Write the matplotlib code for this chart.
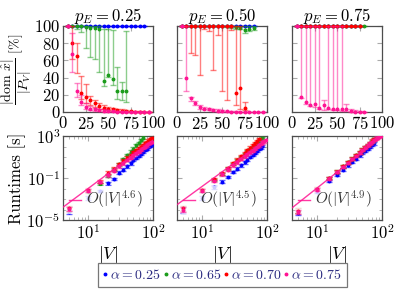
import numpy as np
import matplotlib
matplotlib.use("Agg")
import matplotlib.pyplot as plt
from matplotlib.colors import to_rgba
from matplotlib.lines import Line2D
from matplotlib.ticker import FixedLocator, LogLocator, NullFormatter

plt.rcParams['font.family'] = 'cmr10'
plt.rcParams['mathtext.fontset'] = 'cm'
plt.rcParams['axes.formatter.use_mathtext'] = True
plt.rcParams['axes.unicode_minus'] = False
plt.rcParams['font.size'] = 12

sizes = [5, 10, 15, 20, 25, 30, 35, 40, 45, 50, 55, 60, 65, 70, 75, 80, 85, 90, 95]
p_e = ['0.25', '0.50', '0.75']
alphas = ['0.25', '0.65', '0.70', '0.75']
colors = ['#0000ff', '#1c9c1c', '#ff0000', '#ff1493']

# share |dom x| / |P_V| in %, median / lower / upper, pE = 0.25
s25_blue_med = [100] * 18
s25_green_med = [100, 100, 100, 100, 99, 98, 98, 97, 36, 43, 38, 25, 24, 24]
s25_green_lo = [100, 100, 97, 93, 75, 64, 62, 47, 30, 41, 31, 15, 14, 12]
s25_green_hi = [100, 100, 100, 100, 100, 100, 100, 100, 97, 97, 95, 52, 35, 94]
s25_red_med = [100, 80, 65, 22, 18, 14, 10, 7, 5, 4, 3, 2, 1.5, 1, 0.8, 0.5, 0.3, 0.2, 0.1]
s25_red_lo = [100, 62, 45, 15, 10, 8, 6, 4, 3, 2, 1.5, 1, 0.5, 0.3, 0.2, 0.1, 0, 0, 0]
s25_red_hi = [100, 100, 80, 42, 32, 19, 14, 11, 8, 6, 5, 4, 3, 2, 1.5, 1, 0.6, 0.4, 0.2]
s25_pink_med = [100, 68, 24, 12, 6, 4, 3, 2, 1.5, 1, 0.6, 0.4, 0.3, 0.2, 0.1, 0.1, 0, 0, 0]
s25_pink_lo = [100, 47, 18, 8, 3, 2, 1.5, 1, 0.5, 0.3, 0.2, 0.1, 0, 0, 0, 0, 0, 0, 0]
s25_pink_hi = [100, 92, 34, 20, 10, 7, 5, 4, 3, 2, 1.5, 1, 0.6, 0.4, 0.3, 0.2, 0.1, 0.1, 0]

# pE = 0.50
s50_blue_med = [100] * 17
s50_green_med = [100, 100, 100, 100, 100, 100, 100, 100, 100, 100, 100, 100, 99, 98, 95, 97, 98]
s50_green_lo = [100, 100, 100, 100, 100, 100, 100, 100, 100, 100, 99, 98, 97, 96, 92, 94, 95]
s50_green_hi = [100] * 17
s50_red_med = [100, 100, 100, 100, 100, 100, 100, 100, 100, 100, 100, 100, 22, 28, 5]
s50_red_lo = [100, 100, 69, 66, 43, 96, 94, 49, 89, 25, 14, 95, 8, 3, 2]
s50_red_hi = [100, 100, 100, 100, 100, 100, 100, 100, 100, 100, 100, 100, 100, 100, 12]
s50_pink_med = [100, 40, 16, 10, 6, 4, 3, 2, 1.5, 1, 0.6, 0.4, 0.3, 0.2, 0.1, 0.1, 0, 0, 0]
s50_pink_lo = [100, 24, 13, 8, 4, 3, 2, 1, 0.5, 0.3, 0.2, 0.1, 0, 0, 0, 0, 0, 0, 0]
s50_pink_hi = [100, 100, 18, 13, 8, 6, 5, 4, 3, 2, 1.5, 1, 0.6, 0.4, 0.3, 0.2, 0.1, 0.1, 0]

# pE = 0.75
s75_blue_med = [100] * 15
s75_green_med = [100] * 16
s75_red_med = [100] * 15
s75_pink_med = [100, 18, 12, 8, 9, 5, 8, 5, 4, 3, 4, 3, 1, 0.5, 0.5, 0.3]
s75_pink_lo = [100, 16, 9, 7, 6, 4, 2, 3, 2, 2, 1, 1, 0.3, 0, 0, 0]
s75_pink_hi = [100, 100, 100, 100, 100, 100, 14, 100, 100, 100, 100, 9, 3, 2, 1, 0.5]

# runtimes, log10 of seconds
rt25_blue = [-4.2, -2.9, -2.25, -1.5, -1.1, -0.5, -0.2, 0.1, 0.4, 0.7, 0.9, 1.1, 1.3, 1.5, 1.65, 1.8, 1.95, 2.05, 2.2]
rt25_green = [-3.9, -2.3, -1.55, -0.8, -0.2, 0.3, 0.8, 1.2, 1.5, 1.8, 2.1, 2.35, 2.6, 2.85]
rt25_red = [-3.9, -2.1, -1.35, -0.5, -0.1, 0.35, 0.65, 0.95, 1.2, 1.45, 1.65, 1.85, 2.0, 2.15, 2.3, 2.45, 2.55, 2.7, 2.8]
rt25_pink = [-3.95, -2.2, -1.4, -0.75, -0.3, 0.1, 0.4, 0.7, 0.95, 1.15, 1.35, 1.5, 1.7, 1.85, 2.0, 2.1, 2.25, 2.35, 2.45]
rt50_blue = [-4.1, -2.9, -1.9, -1.35, -0.9, -0.45, -0.1, 0.2, 0.5, 0.75, 1.0, 1.2, 1.4, 1.6, 1.75, 1.9, 2.05]
rt50_green = [-3.9, -2.2, -1.2, -0.6, -0.1, 0.35, 0.7, 1.0, 1.3, 1.55, 1.75, 1.95, 2.15, 2.35, 2.5, 2.65, 2.8]
rt50_red = [-3.9, -2.1, -1.1, -0.55, -0.05, 0.4, 0.75, 1.1, 1.4, 1.65, 1.9, 2.1, 2.3, 2.5, 2.7]
rt50_pink = [-4.0, -2.2, -1.3, -0.65, -0.2, 0.2, 0.5, 0.8, 1.05, 1.25, 1.45, 1.6, 1.8, 1.95, 2.1, 2.25, 2.4, 2.5, 2.6]
rt75_blue = [-4.3, -2.3, -1.3, -0.7, -0.2, 0.2, 0.55, 0.85, 1.15, 1.4, 1.6, 1.8, 2.0, 2.15, 2.3]
rt75_green = [-4.1, -2.0, -1.0, -0.4, 0.1, 0.5, 0.85, 1.2, 1.45, 1.7, 1.95, 2.15, 2.35, 2.5, 2.65, 2.8]
rt75_red = [-4.1, -2.0, -1.0, -0.4, 0.1, 0.5, 0.85, 1.2, 1.45, 1.7, 1.95, 2.15, 2.35, 2.55, 2.7]
rt75_pink = [-4.2, -2.1, -1.05, -0.45, 0.05, 0.45, 0.8, 1.1, 1.4, 1.65, 1.9, 2.1, 2.3, 2.45, 2.6, 2.75, 2.85, 2.95, 3.0]
rt_err = [0.2, 0.15, 0.12, 0.12, 0.12, 0.12, 0.12, 0.12, 0.12, 0.12, 0.12, 0.12, 0.12, 0.12, 0.12, 0.12, 0.12, 0.12, 0.12]

fit_exp = [4.6, 4.5, 4.9]
fit_logc = [-6.6, -6.3, -6.85]

share = [
    [(s25_blue_med, s25_blue_med, s25_blue_med),
     (s25_green_med, s25_green_lo, s25_green_hi),
     (s25_red_med, s25_red_lo, s25_red_hi),
     (s25_pink_med, s25_pink_lo, s25_pink_hi)],
    [(s50_blue_med, s50_blue_med, s50_blue_med),
     (s50_green_med, s50_green_lo, s50_green_hi),
     (s50_red_med, s50_red_lo, s50_red_hi),
     (s50_pink_med, s50_pink_lo, s50_pink_hi)],
    [(s75_blue_med, s75_blue_med, s75_blue_med),
     (s75_green_med, s75_green_med, s75_green_med),
     (s75_red_med, s75_red_med, s75_red_med),
     (s75_pink_med, s75_pink_lo, s75_pink_hi)],
]
runtimes = [
    [rt25_blue, rt25_green, rt25_red, rt25_pink],
    [rt50_blue, rt50_green, rt50_red, rt50_pink],
    [rt75_blue, rt75_green, rt75_red, rt75_pink],
]

W, H = 401, 293
fig = plt.figure(figsize=(W / 100, H / 100), dpi=100)
lefts = [63, 177, 292]


def style(ax):
    for s in ax.spines.values():
        s.set_color('#4d4d4d')
        s.set_linewidth(0.9)
    ax.tick_params(which='both', direction='in', top=True, right=True,
                   color='#aaaaaa', labelsize=12, pad=2)
    ax.tick_params(which='major', length=3.5)
    ax.tick_params(which='minor', length=2)


for i in range(3):
    ax = fig.add_axes([lefts[i] / W, (H - 112) / H, 90 / W, 86 / H])
    style(ax)
    for k in range(4):
        med, lo, hi = (np.array(v, dtype=float) for v in share[i][k])
        x = sizes[:len(med)]
        ax.errorbar(x, med, yerr=[med - lo, hi - med], fmt='o', ms=1.8,
                    color=colors[k], ecolor=to_rgba(colors[k], 0.5),
                    elinewidth=1.0, capsize=2.5, capthick=1.0,
                    clip_on=False, zorder=3 + k)
    ax.set_xlim(0, 100)
    ax.set_ylim(0, 100)
    ax.set_xticks([0, 25, 50, 75, 100])
    ax.set_yticks([0, 20, 40, 60, 80, 100])
    if i > 0:
        ax.set_yticklabels([])
    else:
        ax.set_ylabel(r'$\dfrac{|\mathrm{dom}\ \hat{x}|}{|P_V|}\ [\%]$', fontsize=10, labelpad=0)
    ax.set_title(r'$p_E = %s$' % p_e[i], fontsize=12, pad=3)

    bx = fig.add_axes([lefts[i] / W, (H - 220) / H, 90 / W, 84 / H])
    style(bx)
    bx.set_xscale('log')
    bx.set_yscale('log')
    for k in range(4):
        med = np.array(runtimes[i][k])
        e = np.array(rt_err[:len(med)])
        x = sizes[:len(med)]
        y = 10 ** med
        bx.errorbar(x, y, yerr=[y - 10 ** (med - e), 10 ** (med + e) - y],
                    fmt='o', ms=1.8, color=colors[k],
                    ecolor=to_rgba(colors[k], 0.6), elinewidth=1.0,
                    capsize=2.5, capthick=1.0, zorder=3 + k)
    xf = np.array([4.1, 100])
    bx.plot(xf, 10 ** (fit_logc[i]) * xf ** fit_exp[i], color=colors[3], lw=1.0,
            alpha=0.85, zorder=8, label=r'$O(|V|^{%s})$' % fit_exp[i])
    bx.set_xlim(4.1, 100)
    bx.set_ylim(1e-5, 1e3)
    bx.yaxis.set_major_locator(FixedLocator([1e-5, 1e-1, 1e3]))
    bx.yaxis.set_minor_locator(FixedLocator([10.0 ** p for p in range(-5, 4)]))
    bx.yaxis.set_minor_formatter(NullFormatter())
    bx.xaxis.set_major_locator(FixedLocator([10, 100]))
    bx.xaxis.set_minor_locator(LogLocator(base=10, subs=np.arange(2, 10)))
    bx.xaxis.set_minor_formatter(NullFormatter())
    if i > 0:
        bx.set_yticklabels([])
    else:
        bx.set_ylabel('Runtimes [s]', fontsize=12, labelpad=0)
    bx.set_xlabel(r'$|V|$', fontsize=13, labelpad=2)
    leg = bx.legend(loc='lower left', bbox_to_anchor=(0.0, 0.03), frameon=True,
                    framealpha=0.8, edgecolor='none', fontsize=11,
                    handlelength=0.8, handletextpad=0.3, borderpad=0.2,
                    borderaxespad=0.2)
    leg.get_frame().set_linewidth(0)
    for t in leg.get_texts():
        t.set_color('#333333')

handles = [Line2D([], [], ls='none', marker='o', ms=1.8, color=c) for c in colors]
labels = [r'$\alpha = %s$' % a for a in alphas]
fl = fig.legend(handles, labels, loc='center', bbox_to_anchor=(222.5 / W, 18 / H),
                ncol=4, frameon=True, fancybox=False, edgecolor='#555555',
                fontsize=10, handlelength=0.3, handletextpad=0.2,
                columnspacing=0.2, borderpad=0.35)
fl.get_frame().set_linewidth(0.9)
for t in fl.get_texts():
    t.set_color('#2a2a80')

fig.savefig('out.png', dpi=100)
